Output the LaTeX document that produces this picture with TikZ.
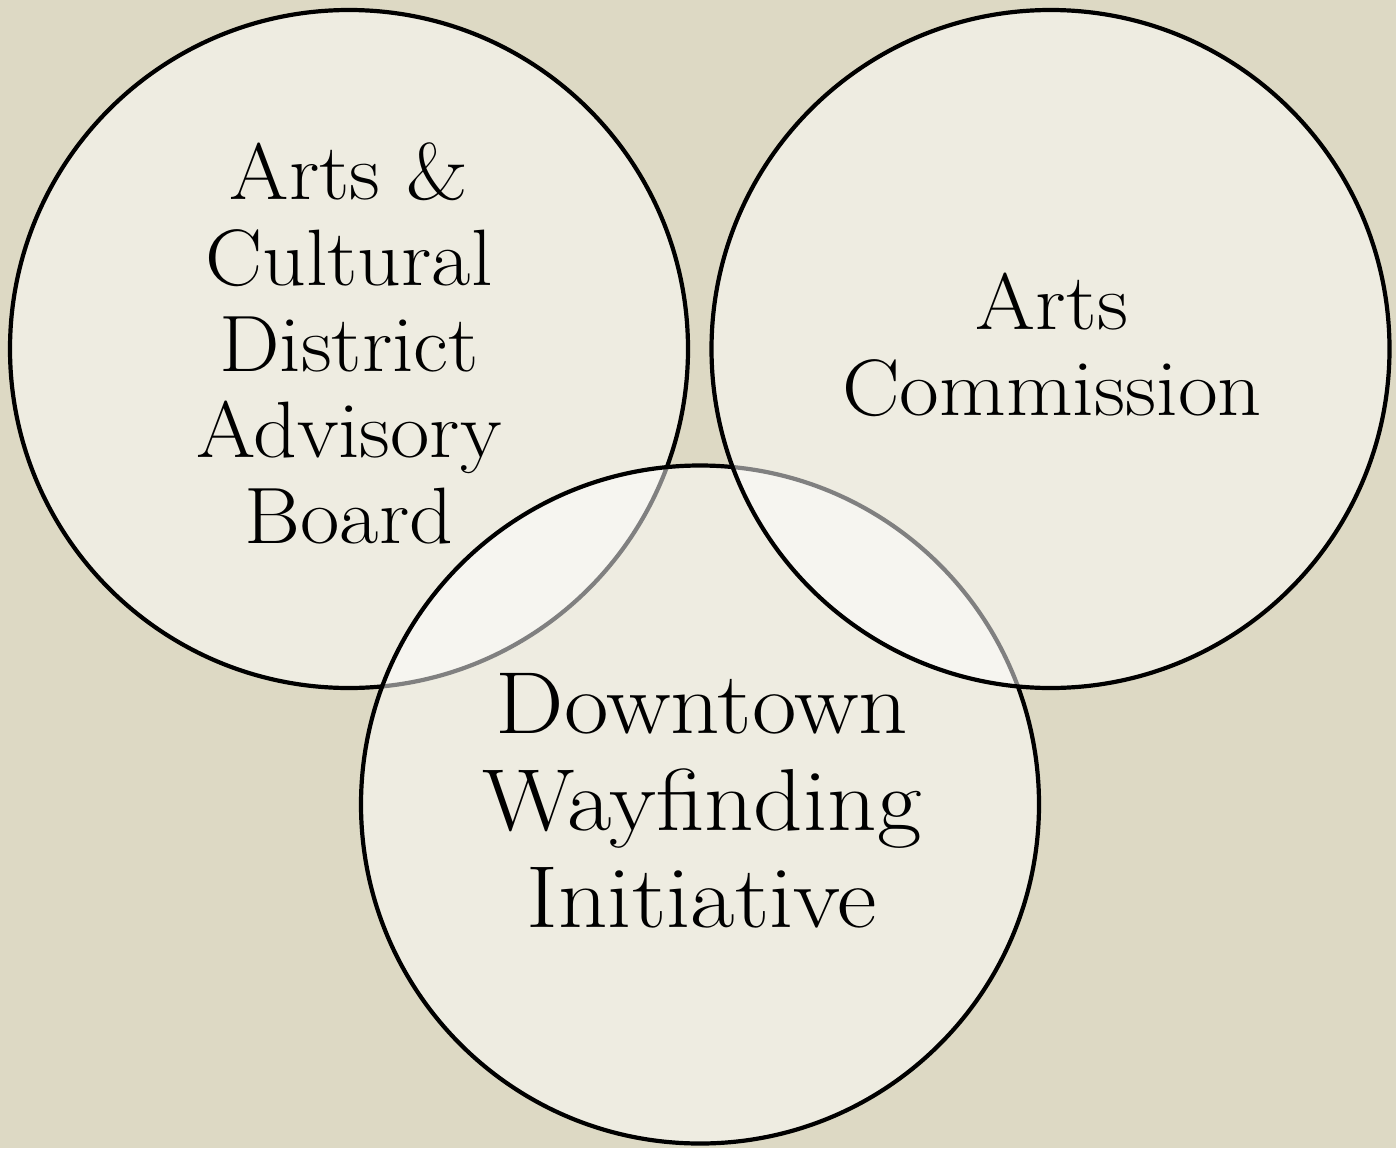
\documentclass[tikz,border=0pt]{standalone}
\definecolor{bgbeige}{HTML}{DDD9C4}
\tikzset{
  ring/.style={circle, draw=black, line width=4.2pt, fill=white, fill opacity=0.5, draw opacity=1, minimum size=678pt, inner sep=0pt},
  lbl/.style={align=center, anchor=base, text=black, inner sep=0pt, transform shape}
}
\begin{document}
\begin{tikzpicture}[x=1pt, y=-1pt]
\fill[bgbeige] (0,0) rectangle (1396,1148);
\useasboundingbox (0,0) rectangle (1396,1148);
\node[ring] (left) at (349,349) {};
\node[ring] (bottom) at (700,804.5) {};
\node[ring] (right) at (1050.5,349) {};
\node[lbl, xscale=1.07, font=\fontsize{80}{86}\selectfont] (lefttxt) at (349,543) {Arts \&\\Cultural\\District\\Advisory\\Board};
\node[lbl, xscale=1.08, font=\fontsize{80}{86}\selectfont] (righttxt) at (1052,415) {Arts\\Commission};
\node[lbl, xscale=1.10, font=\fontsize{88}{97}\selectfont] (bottomtxt) at (702,927) {Downtown\\Wayfinding\\Initiative};
\end{tikzpicture}
\end{document}
